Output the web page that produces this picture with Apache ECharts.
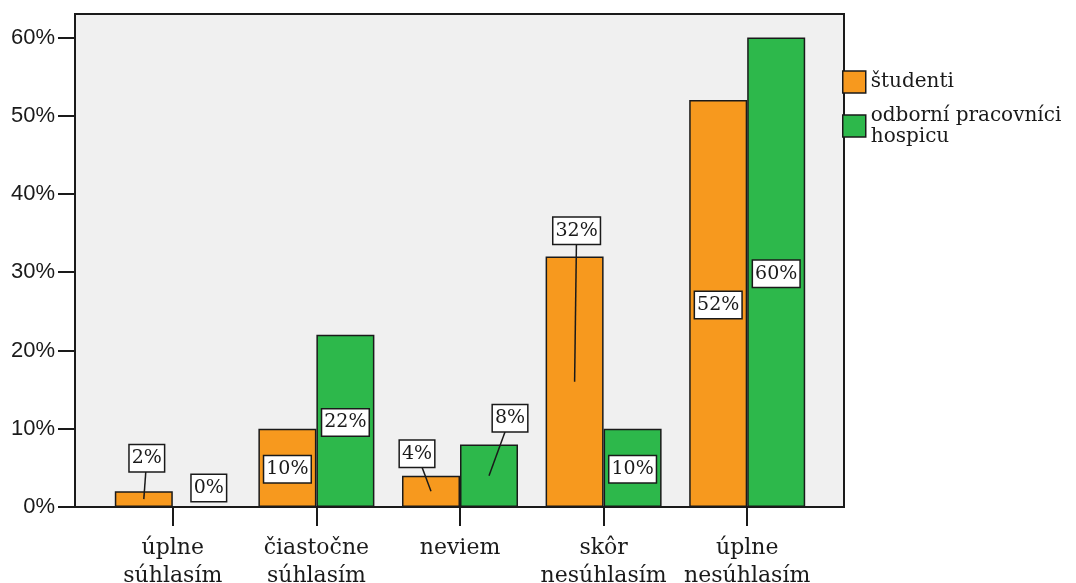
<!DOCTYPE html>
<html>
<head>
<meta charset="utf-8">
<title>Názor na výrok</title>
<script src="https://cdn.jsdelivr.net/npm/echarts@6.0.0/dist/echarts.min.js"></script>
<style>
  html, body { margin: 0; padding: 0; background: #fff; }
  #chart { width: 1076px; height: 583px; }
</style>
</head>
<body>
<div id="chart"></div>
<script>
// Answer categories (x axis)
const categories = ['úplne\nsúhlasím', 'čiastočne\nsúhlasím', 'neviem', 'skôr\nnesúhlasím', 'úplne\nnesúhlasím'];
// Share of respondents per answer, in percent
const studenti = [2, 10, 4, 32, 52];
const pracovnici = [0, 22, 8, 10, 60];
const seriesNames = ['študenti', 'odborní pracovníci\nhospicu'];
// Y axis tick values (percent)
const yTicks = [0, 10, 20, 30, 40, 50, 60];

// Layout constants
const PLOT = { left: 75, top: 14, right: 844, bottom: 507 };
const BAND_LEFT = 101, BAND_RIGHT = 819;
const Y_MAX = 63;
const BAR_W = 58;
const ORANGE = '#f7991e';
const GREEN = '#2db84b';
const INK = '#1a1a1a';
// Pixel shift of each value label away from its bar's middle (null = stays inside)
const LABEL_SHIFT = [
  [[3, -41], null, [-14, -37.5], [2, -151], null],
  [[7, -19], null, [21, -57.5], null, null]
];

const chart = echarts.init(document.getElementById('chart'), null, { renderer: 'canvas' });

const valueSets = [studenti, pracovnici];
const labelData = [];
valueSets.forEach((vals, si) => vals.forEach((v, ci) => labelData.push([ci, v, si])));

const option = {
  animation: false,
  backgroundColor: '#fff',
  textStyle: { fontFamily: 'DejaVu Serif' },
  grid: [
    {
      left: PLOT.left, top: PLOT.top,
      width: PLOT.right - PLOT.left, height: PLOT.bottom - PLOT.top,
      outerBoundsMode: 'none', containLabel: false,
      show: true, backgroundColor: '#f0f0f0', borderColor: INK, borderWidth: 2
    },
    {
      left: BAND_LEFT, top: PLOT.top,
      width: BAND_RIGHT - BAND_LEFT, height: PLOT.bottom - PLOT.top,
      outerBoundsMode: 'none', containLabel: false
    }
  ],
  legend: {
    orient: 'vertical',
    left: 837, top: 62.5,
    itemWidth: 23, itemHeight: 22, itemGap: 4.5,
    icon: 'rect',
    data: seriesNames,
    textStyle: { fontFamily: 'DejaVu Serif', fontSize: 20, color: INK, lineHeight: 21, padding: [8, 0, 0, 0] },
    itemStyle: { borderColor: INK, borderWidth: 1.5 },
    selectedMode: false
  },
  xAxis: [
    { gridIndex: 0, type: 'value', show: false, min: 0, max: 1 },
    {
      gridIndex: 1, type: 'category', data: categories,
      axisLine: { show: true, lineStyle: { color: INK, width: 2 } },
      axisTick: { show: true, alignWithLabel: true, length: 19, lineStyle: { color: INK, width: 2 } },
      axisLabel: {
        margin: 27, fontFamily: 'DejaVu Serif', fontSize: 22, lineHeight: 28,
        color: INK, interval: 0
      },
      splitLine: { show: false }
    }
  ],
  yAxis: [
    {
      gridIndex: 0, type: 'value', min: 0, max: Y_MAX,
      axisLine: { show: false },
      axisTick: { show: true, length: 17, customValues: yTicks, lineStyle: { color: INK, width: 2 } },
      axisLabel: {
        customValues: yTicks, margin: 20,
        fontFamily: 'Liberation Sans', fontSize: 22, color: INK,
        formatter: v => v + '%'
      },
      splitLine: { show: false }
    },
    { gridIndex: 1, type: 'value', min: 0, max: Y_MAX, show: false }
  ],
  series: [
    {
      name: seriesNames[0], type: 'bar', xAxisIndex: 1, yAxisIndex: 1,
      data: studenti, barWidth: BAR_W, barGap: '0%',
      itemStyle: { color: ORANGE, borderColor: INK, borderWidth: 1.5 }
    },
    {
      name: seriesNames[1], type: 'bar', xAxisIndex: 1, yAxisIndex: 1,
      data: pracovnici, barWidth: BAR_W, barGap: '0%',
      itemStyle: { color: GREEN, borderColor: INK, borderWidth: 1.5 }
    },
    {
      // boxed value labels, with a leader line when moved off the bar
      type: 'custom', xAxisIndex: 1, yAxisIndex: 1, z: 10,
      data: labelData,
      renderItem(params, api) {
        const ci = api.value(0), v = api.value(1), si = api.value(2);
        const c = api.coord([ci, v / 2]);
        const bx = c[0] + (si === 0 ? -BAR_W / 2 : BAR_W / 2);
        const by = c[1];
        const shift = LABEL_SHIFT[si][ci];
        const lx = bx + (shift ? shift[0] : 0);
        const ly = by + (shift ? shift[1] : 1.5);
        const children = [];
        if (shift && v > 0) {
          children.push({
            type: 'line',
            shape: { x1: bx, y1: by, x2: lx, y2: ly },
            style: { stroke: INK, lineWidth: 1.5 }
          });
        }
        children.push({
          type: 'text', x: lx, y: ly,
          style: {
            text: v + '%',
            font: '19px "DejaVu Serif"',
            fill: INK,
            align: 'center', verticalAlign: 'middle',
            backgroundColor: '#fff', borderColor: INK, borderWidth: 1.5,
            padding: [4, 2, 3, 2]
          }
        });
        return { type: 'group', children };
      }
    }
  ]
};

chart.setOption(option);
</script>
</body>
</html>
